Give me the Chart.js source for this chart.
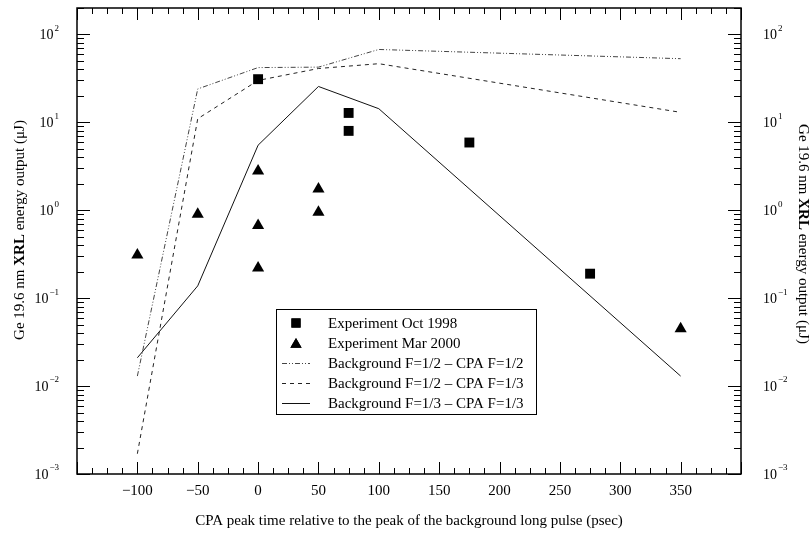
<!DOCTYPE html>
<html>
<head>
<meta charset="utf-8">
<title>Ge 19.6 nm XRL energy output</title>
<script src="https://cdn.jsdelivr.net/npm/chart.js@4.4.1/dist/chart.umd.min.js"></script>
<style>
  html, body { margin: 0; padding: 0; background: #fff; }
  #wrap { width: 811px; height: 535px; }
</style>
</head>
<body>
<div id="wrap"><canvas id="xrlChart"></canvas></div>
<script>
// measured shots
const timesOct = [0, 75, 75, 175, 275];
const energyOct = [31, 12.8, 8.0, 5.9, 0.19];
const timesMar = [-100, -50, 0, 0, 0, 50, 50, 350];
const energyMar = [0.31, 0.9, 2.8, 0.67, 0.22, 1.75, 0.95, 0.045];

// simulations
const modelTimes = [-100, -50, 0, 50, 100, 350];
const modelHalfHalf = [0.013, 24, 42, 42.5, 67.5, 53];
const modelHalfThird = [0.0017, 11, 30, 41, 46.5, 13];
const modelThirdThird = [0.021, 0.138, 5.5, 25.6, 14.3, 0.013];

const legendLabels = [
    'Experiment Oct 1998',
    'Experiment Mar 2000',
    'Background F=1/2 \u2013 CPA F=1/2',
    'Background F=1/2 \u2013 CPA F=1/3',
    'Background F=1/3 \u2013 CPA F=1/3'
];

const xTickValues = [-100, -50, 0, 50, 100, 150, 200, 250, 300, 350];
const yTickExponents = [-3, -2, -1, 0, 1, 2];

const X_MIN = -150, X_MAX = 400;
const Y_MIN = 0.001, Y_MAX = 200;
const SERIF = '"Liberation Serif", "Times New Roman", serif';

function toPoints(xs, ys) {
    return xs.map((x, i) => ({ x: x, y: ys[i] }));
}

function minus(n) {
    return n < 0 ? '\u2212' + Math.abs(n) : String(n);
}

// draws a run of text pieces (some bold) centred on cx,cy, optionally rotated
function drawRich(ctx, parts, cx, cy, angle, size) {
    ctx.save();
    ctx.translate(cx, cy);
    ctx.rotate(angle);
    ctx.textBaseline = 'middle';
    ctx.textAlign = 'left';
    let total = 0;
    parts.forEach(p => {
        ctx.font = (p.bold ? 'bold ' : '') + size + 'px ' + SERIF;
        total += ctx.measureText(p.text).width;
    });
    let x = -total / 2;
    parts.forEach(p => {
        ctx.font = (p.bold ? 'bold ' : '') + size + 'px ' + SERIF;
        ctx.fillText(p.text, x, 0);
        x += ctx.measureText(p.text).width;
    });
    ctx.restore();
}

function drawPowerLabel(ctx, exp, x, y, alignRight) {
    ctx.font = '14px ' + SERIF;
    const base = '10';
    const baseW = ctx.measureText(base).width;
    ctx.font = '9px ' + SERIF;
    const sup = minus(exp);
    const supW = ctx.measureText(sup).width;
    const start = alignRight ? x - baseW - supW - 1 : x;
    ctx.textAlign = 'left';
    ctx.textBaseline = 'middle';
    ctx.font = '14px ' + SERIF;
    ctx.fillText(base, start, y + 1);
    ctx.font = '9px ' + SERIF;
    ctx.fillText(sup, start + baseW + 1, y - 6);
}

const yTitleParts = [
    { text: 'Ge 19.6 nm ' },
    { text: 'XRL', bold: true },
    { text: ' energy output (\u03bcJ)' }
];

// frame, inward ticks on all four sides, tick labels, titles and the boxed legend
const frameAndAxes = {
    id: 'frameAndAxes',
    afterDatasetsDraw(chart) {
        const ctx = chart.ctx;
        const area = chart.chartArea;
        const xs = chart.scales.x;
        const ys = chart.scales.y;
        ctx.save();
        ctx.fillStyle = '#000';
        ctx.strokeStyle = '#000';

        ctx.lineWidth = 1;
        ctx.beginPath();
        for (let v = X_MIN; v <= X_MAX; v += 12.5) {
            const px = Math.round(xs.getPixelForValue(v)) + 0.5;
            const len = (v % 50 === 0) ? 12 : 6;
            ctx.moveTo(px, area.bottom);
            ctx.lineTo(px, area.bottom - len);
            ctx.moveTo(px, area.top);
            ctx.lineTo(px, area.top + len);
        }
        yTickExponents.forEach(e => {
            for (let m = 1; m <= 9; m++) {
                const v = m * Math.pow(10, e);
                if (v > Y_MAX) break;
                const py = Math.round(ys.getPixelForValue(v)) + 0.5;
                const len = m === 1 ? 13 : 7;
                ctx.moveTo(area.left, py);
                ctx.lineTo(area.left + len, py);
                ctx.moveTo(area.right, py);
                ctx.lineTo(area.right - len, py);
            }
        });
        ctx.stroke();

        ctx.lineWidth = 1.5;
        ctx.strokeRect(area.left, area.top, area.right - area.left, area.bottom - area.top);

        // x tick labels
        ctx.font = '15px ' + SERIF;
        ctx.textAlign = 'center';
        ctx.textBaseline = 'middle';
        xTickValues.forEach(v => {
            ctx.fillText(minus(v), xs.getPixelForValue(v), area.bottom + 17);
        });

        // y tick labels, both sides
        yTickExponents.forEach(e => {
            const py = ys.getPixelForValue(Math.pow(10, e));
            drawPowerLabel(ctx, e, area.left - 18, py, true);
            drawPowerLabel(ctx, e, area.right + 22, py, false);
        });

        // axis titles
        drawRich(ctx, [{ text: 'CPA peak time relative to the peak of the background long pulse (psec)' }],
            (area.left + area.right) / 2, area.bottom + 47, 0, 15);
        drawRich(ctx, yTitleParts, 20, 230, -Math.PI / 2, 15);
        drawRich(ctx, yTitleParts, 803, 234, Math.PI / 2, 15);

        // legend
        const box = { x: 276.5, y: 309.5, w: 260, h: 105 };
        ctx.fillStyle = '#fff';
        ctx.fillRect(box.x, box.y, box.w, box.h);
        ctx.lineWidth = 1;
        ctx.strokeRect(box.x, box.y, box.w, box.h);
        ctx.fillStyle = '#000';
        const rowY = [323, 343, 363, 383, 403];
        const symX = 296;
        chart.data.datasets.forEach((ds, i) => {
            const y = rowY[i];
            if (ds.showLine) {
                ctx.save();
                ctx.strokeStyle = ds.borderColor;
                ctx.lineWidth = ds.borderWidth;
                ctx.setLineDash(ds.borderDash || []);
                ctx.beginPath();
                ctx.moveTo(282, y + 0.5);
                ctx.lineTo(310, y + 0.5);
                ctx.stroke();
                ctx.restore();
            } else {
                Chart.helpers.drawPoint(ctx, {
                    pointStyle: ds.pointStyle,
                    radius: 6.5,
                    borderWidth: 0,
                    rotation: 0
                }, symX, ds.pointStyle === 'triangle' ? y + 1.5 : y);
                ctx.fill();
            }
            ctx.font = '15px ' + SERIF;
            ctx.textAlign = 'left';
            ctx.textBaseline = 'middle';
            ctx.fillText(legendLabels[i], 328, y + 1);
        });
        ctx.restore();
    }
};

const chartCanvas = document.getElementById('xrlChart');
new Chart(chartCanvas, {
    type: 'scatter',
    data: {
        datasets: [
            {
                label: legendLabels[0],
                data: toPoints(timesOct, energyOct),
                pointStyle: 'rect', pointRadius: 7,
                backgroundColor: '#000', borderWidth: 0
            },
            {
                label: legendLabels[1],
                data: toPoints(timesMar, energyMar),
                pointStyle: 'triangle', pointRadius: 7,
                backgroundColor: '#000', borderWidth: 0
            },
            {
                label: legendLabels[2],
                data: toPoints(modelTimes, modelHalfHalf),
                showLine: true, pointRadius: 0,
                borderColor: '#444', borderWidth: 1,
                borderDash: [5, 2, 1, 2, 1, 2]
            },
            {
                label: legendLabels[3],
                data: toPoints(modelTimes, modelHalfThird),
                showLine: true, pointRadius: 0,
                borderColor: '#222', borderWidth: 1,
                borderDash: [4, 4]
            },
            {
                label: legendLabels[4],
                data: toPoints(modelTimes, modelThirdThird),
                showLine: true, pointRadius: 0,
                borderColor: '#111', borderWidth: 1
            }
        ]
    },
    options: {
        responsive: true,
        maintainAspectRatio: false,
        animation: false,
        events: [],
        layout: { padding: { left: 77, top: 8, right: 70, bottom: 61 } },
        plugins: {
            legend: { display: false },
            tooltip: { enabled: false }
        },
        scales: {
            x: { type: 'linear', min: X_MIN, max: X_MAX, display: false },
            y: { type: 'logarithmic', min: Y_MIN, max: Y_MAX, display: false }
        }
    },
    plugins: [frameAndAxes]
});
</script>
</body>
</html>
